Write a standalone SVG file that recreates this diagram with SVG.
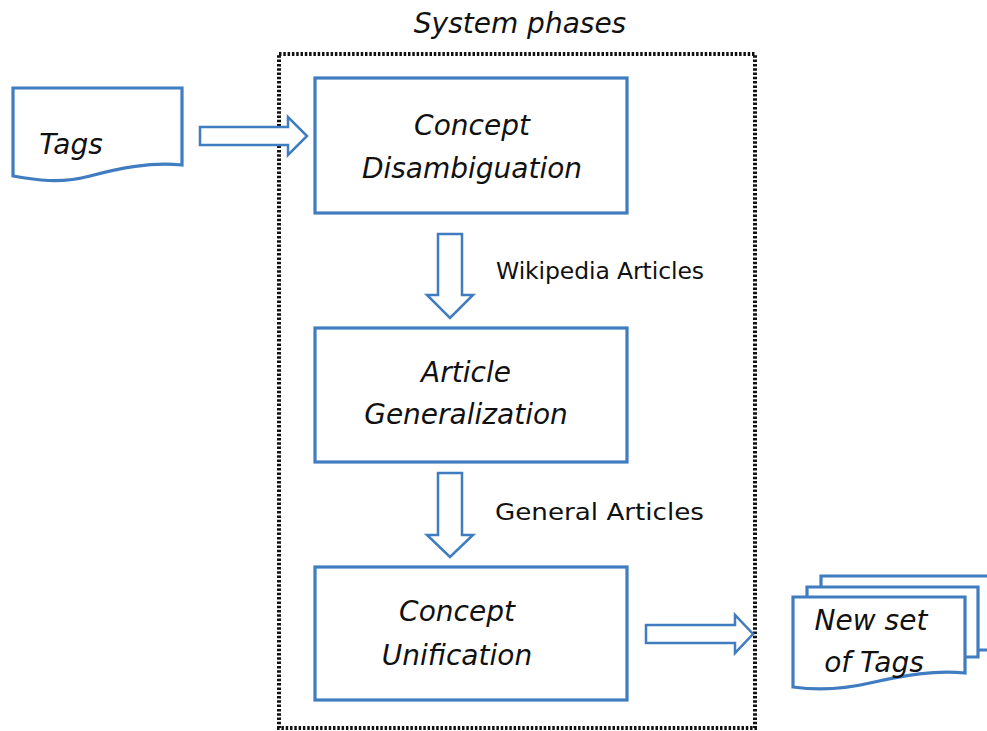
<svg xmlns="http://www.w3.org/2000/svg" width="987" height="731" viewBox="0 0 987 731">
  <style>
    .shape { fill: #ffffff; stroke: #3f7cc0; stroke-width: 3.2; stroke-linejoin: miter; }
    .arrow { fill: #ffffff; stroke: #3f7cc0; stroke-width: 2.5; stroke-linejoin: miter; }
    .frame { fill: none; stroke: #111111; stroke-width: 4; stroke-dasharray: 2.5 1.8; }
    .title { font-family: "DejaVu Sans", sans-serif; font-style: italic; font-size: 28px; fill: #111111; text-anchor: middle; }
    .label { font-family: "DejaVu Sans", sans-serif; font-size: 23.5px; fill: #111111; }
  </style>

  <!-- dotted boundary of the system -->
  <g id="system">
    <rect class="frame" x="279" y="54" width="476" height="674"/>
    <text class="title" x="520" y="33">System phases</text>
  </g>

  <!-- input document -->
  <g id="tags">
    <path class="shape" d="M13,88 H182 V165 C150,162 120,168 90,176 C60,184 35,180 13,176 Z"/>
    <text class="title" x="71" y="154">Tags</text>
  </g>

  <g id="concept-disambiguation">
    <rect class="shape" x="315" y="78" width="312" height="135"/>
    <text class="title" x="472" y="135">Concept</text>
    <text class="title" x="472" y="178">Disambiguation</text>
  </g>

  <g id="article-generalization">
    <rect class="shape" x="315" y="328" width="312" height="134"/>
    <text class="title" x="466" y="382">Article</text>
    <text class="title" x="466" y="424">Generalization</text>
  </g>

  <g id="concept-unification">
    <rect class="shape" x="315" y="567" width="312" height="133"/>
    <text class="title" x="457" y="621">Concept</text>
    <text class="title" x="457" y="665">Unification</text>
  </g>

  <!-- output: stacked documents -->
  <g id="new-tags">
    <path class="shape" d="M821,576 H1000 V650 H821 Z"/>
    <path class="shape" d="M807,587 H978 V657 H807 Z"/>
    <path class="shape" d="M793,597 H965 V673 C935,670 905,675 870,683 C840,690 815,690 793,687 Z"/>
    <text class="title" x="871" y="630">New set</text>
    <text class="title" x="874" y="672">of Tags</text>
  </g>

  <!-- block arrows between phases -->
  <g id="connectors">
    <path class="arrow" d="M200,127 H288 V117 L307,136 L288,155 V145 H200 Z"/>
    <path class="arrow" d="M438,234 H462 V295 H473 L450,318 L427,295 H438 Z"/>
    <text class="label" x="496" y="279" textLength="208" lengthAdjust="spacing">Wikipedia Articles</text>
    <path class="arrow" d="M438,473 H462 V535 H473 L450,557 L427,535 H438 Z"/>
    <text class="label" x="495" y="520" textLength="209" lengthAdjust="spacingAndGlyphs">General Articles</text>
    <path class="arrow" d="M646,625 H735 V615 L753,634 L735,653 V643 H646 Z"/>
  </g>
</svg>
